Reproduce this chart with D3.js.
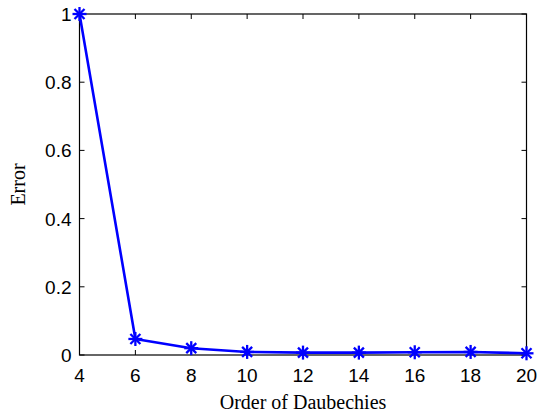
<!DOCTYPE html>
<html>
<head>
<meta charset="utf-8">
<script src="https://cdn.jsdelivr.net/npm/d3@7"></script>
<style>
  html, body { margin: 0; padding: 0; background: #fff; }
  svg { display: block; }
</style>
</head>
<body>
<svg id="chart" width="538" height="415"></svg>
<script>
// Approximation error for each Daubechies wavelet order
const orders = [4, 6, 8, 10, 12, 14, 16, 18, 20];
const errors = [1.0, 0.047, 0.020, 0.009, 0.007, 0.007, 0.008, 0.009, 0.005];
const xTicks = [4, 6, 8, 10, 12, 14, 16, 18, 20];
const yTicks = [0, 0.2, 0.4, 0.6, 0.8, 1];

(function () {
  const svg = d3.select("#chart");
  const plotLeft = 79.5, plotRight = 526.5, plotTop = 14, plotBottom = 355;

  const x = d3.scaleLinear().domain([4, 20]).range([plotLeft, plotRight]);
  const y = d3.scaleLinear().domain([0, 1]).range([plotBottom, plotTop]);

  const tickFont = "Liberation Sans, Arial, Helvetica, sans-serif";
  const labelFont = "Liberation Serif, Times New Roman, serif";

  // Axis box
  svg.append("rect")
    .attr("x", plotLeft).attr("y", plotTop)
    .attr("width", plotRight - plotLeft).attr("height", plotBottom - plotTop)
    .attr("fill", "none").attr("stroke", "#000").attr("stroke-width", 1.2);

  // Inward ticks on all four sides
  const tickLen = 5;
  const g = svg.append("g").attr("stroke", "#000").attr("stroke-width", 1);
  xTicks.forEach(t => {
    const px = x(t);
    g.append("line").attr("x1", px).attr("x2", px).attr("y1", plotBottom).attr("y2", plotBottom - tickLen);
    g.append("line").attr("x1", px).attr("x2", px).attr("y1", plotTop).attr("y2", plotTop + tickLen);
  });
  yTicks.forEach(t => {
    const py = y(t);
    g.append("line").attr("x1", plotLeft).attr("x2", plotLeft + tickLen).attr("y1", py).attr("y2", py);
    g.append("line").attr("x1", plotRight).attr("x2", plotRight - tickLen).attr("y1", py).attr("y2", py);
  });

  // Tick labels
  svg.append("g").selectAll("text").data(xTicks).join("text")
    .attr("x", d => x(d)).attr("y", plotBottom + 27)
    .attr("text-anchor", "middle")
    .attr("font-family", tickFont).attr("font-size", 19)
    .text(d => d);

  svg.append("g").selectAll("text").data(yTicks).join("text")
    .attr("x", plotLeft - 8).attr("y", d => y(d) + 7)
    .attr("text-anchor", "end")
    .attr("font-family", tickFont).attr("font-size", 19)
    .text(d => d3.format("~g")(d));

  // Axis titles
  svg.append("text")
    .attr("x", (plotLeft + plotRight) / 2).attr("y", plotBottom + 53.5)
    .attr("text-anchor", "middle")
    .attr("font-family", labelFont).attr("font-size", 20)
    .text("Order of Daubechies");

  svg.append("text")
    .attr("transform", `translate(25,${(plotTop + plotBottom) / 2}) rotate(-90)`)
    .attr("text-anchor", "middle")
    .attr("font-family", labelFont).attr("font-size", 20)
    .text("Error");

  // Data line
  const data = orders.map((o, i) => ({ o, e: errors[i] }));
  svg.append("path")
    .datum(data)
    .attr("fill", "none").attr("stroke", "#0000ff").attr("stroke-width", 2.6)
    .attr("stroke-linejoin", "round")
    .attr("d", d3.line().x(d => x(d.o)).y(d => y(d.e)));

  // Asterisk markers
  const s = 7, d2 = 5;
  const marks = svg.append("g").attr("stroke", "#0000ff").attr("stroke-width", 2.3);
  data.forEach(d => {
    const cx = x(d.o), cy = y(d.e);
    const m = marks.append("g").attr("transform", `translate(${cx},${cy})`);
    m.append("line").attr("x1", -s).attr("x2", s).attr("y1", 0).attr("y2", 0);
    m.append("line").attr("x1", 0).attr("x2", 0).attr("y1", -s).attr("y2", s);
    m.append("line").attr("x1", -d2).attr("x2", d2).attr("y1", -d2).attr("y2", d2);
    m.append("line").attr("x1", -d2).attr("x2", d2).attr("y1", d2).attr("y2", -d2);
  });
})();
</script>
</body>
</html>
